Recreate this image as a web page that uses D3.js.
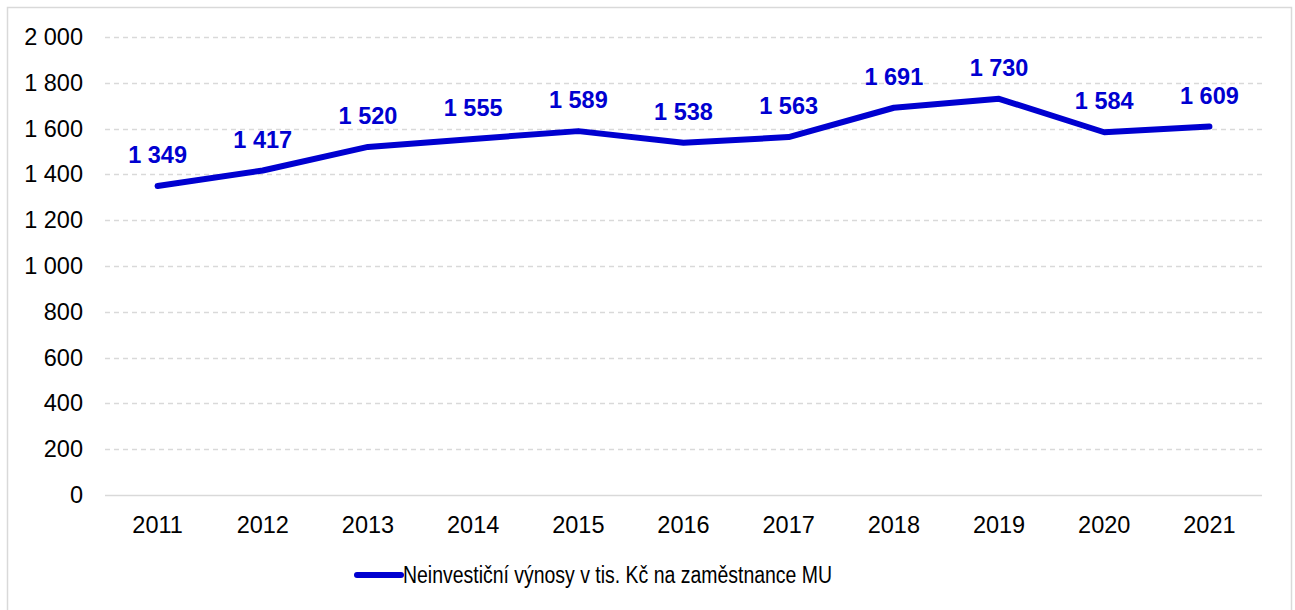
<!DOCTYPE html>
<html>
<head>
<meta charset="utf-8">
<script src="https://cdn.jsdelivr.net/npm/d3@7"></script>
<style>
  body { margin: 0; background: #fff; }
  text { font-family: "Liberation Sans", Arial, sans-serif; }
</style>
</head>
<body>
<div id="chart"></div>
<script>
// data
const years = ["2011","2012","2013","2014","2015","2016","2017","2018","2019","2020","2021"];
const values = [1349, 1417, 1520, 1555, 1589, 1538, 1563, 1691, 1730, 1584, 1609];
const yTicks = [0, 200, 400, 600, 800, 1000, 1200, 1400, 1600, 1800, 2000];
const seriesName = "Neinvestiční výnosy v tis. Kč na zaměstnance MU";

const W = 1295, H = 610;
const plotL = 105, plotR = 1262, plotT = 37, plotB = 495;
const blue = "#0000d0";
const fmt = v => d3.format(",")(v).replace(/,/g, " ");

const svg = d3.select("#chart").append("svg")
    .attr("width", W).attr("height", H);

// chart border
svg.append("rect")
    .attr("x", 7.5).attr("y", 7.5)
    .attr("width", 1284).attr("height", 610)
    .attr("fill", "none").attr("stroke", "#d9d9d9").attr("stroke-width", 1.5);

const x = d3.scaleBand().domain(years).range([plotL, plotR]);
const y = d3.scaleLinear().domain([0, 2000]).range([plotB, plotT]);

// gridlines
svg.append("g").selectAll("line")
    .data(yTicks).enter().append("line")
    .attr("x1", plotL).attr("x2", plotR)
    .attr("y1", d => Math.round(y(d)) + 0.5).attr("y2", d => Math.round(y(d)) + 0.5)
    .attr("stroke", "#d9d9d9").attr("stroke-width", 1.5)
    .attr("stroke-dasharray", d => d === 0 ? null : "5,4");

// y axis labels
const yAxis = svg.append("g")
    .attr("transform", "translate(" + plotL + ",0)")
    .call(d3.axisLeft(y).tickValues(yTicks).tickFormat(fmt).tickSize(0).tickPadding(22));
yAxis.select(".domain").remove();
yAxis.selectAll("text")
    .attr("font-size", "23.5px").attr("fill", "#000")
    .style("font-family", "'Liberation Sans', Arial, sans-serif");

// x axis labels
const xAxis = svg.append("g")
    .attr("transform", "translate(0," + plotB + ")")
    .call(d3.axisBottom(x).tickSize(0).tickPadding(21));
xAxis.select(".domain").remove();
xAxis.selectAll("text")
    .attr("font-size", "23.5px").attr("fill", "#000")
    .style("font-family", "'Liberation Sans', Arial, sans-serif");

// line
const line = d3.line()
    .x((d, i) => x(years[i]) + x.bandwidth() / 2)
    .y(d => y(d));

svg.append("path")
    .datum(values)
    .attr("d", line)
    .attr("fill", "none").attr("stroke", blue)
    .attr("stroke-width", 6).attr("stroke-linecap", "round").attr("stroke-linejoin", "round");

// data labels
svg.append("g").selectAll("text")
    .data(values).enter().append("text")
    .text(d => fmt(d))
    .attr("x", (d, i) => x(years[i]) + x.bandwidth() / 2)
    .attr("y", d => y(d) - 23)
    .attr("text-anchor", "middle")
    .attr("font-size", "23.5px").attr("font-weight", "bold")
    .attr("fill", blue);

// legend
const lg = svg.append("g");
lg.append("line")
    .attr("x1", 357).attr("x2", 401).attr("y1", 575).attr("y2", 575)
    .attr("stroke", blue).attr("stroke-width", 6).attr("stroke-linecap", "round");
lg.append("text")
    .attr("x", 403).attr("y", 583)
    .attr("font-size", "23px").attr("fill", "#000")
    .attr("textLength", 429).attr("lengthAdjust", "spacingAndGlyphs")
    .text(seriesName);
</script>
</body>
</html>
